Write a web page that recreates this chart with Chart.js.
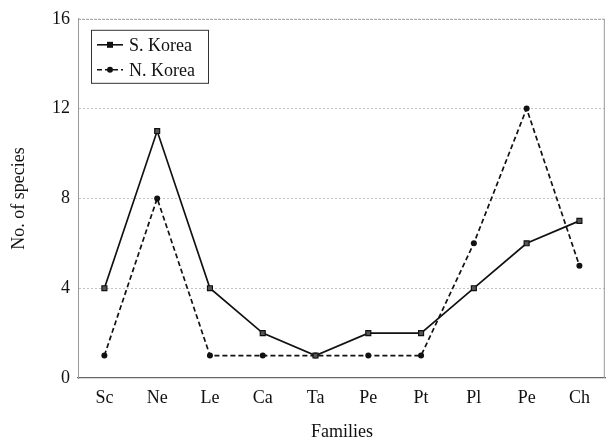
<!DOCTYPE html>
<html>
<head>
<meta charset="utf-8">
<script src="https://cdn.jsdelivr.net/npm/chart.js@4/dist/chart.umd.min.js"></script>
<style>
  html, body { margin: 0; padding: 0; background: #fff; }
  #wrap { width: 611px; height: 443px; position: relative; }
</style>
</head>
<body>
<div id="wrap"><canvas id="speciesChart" width="611" height="443"></canvas></div>
<script>
// Families along the x axis
const families = ['Sc', 'Ne', 'Le', 'Ca', 'Ta', 'Pe', 'Pt', 'Pl', 'Pe', 'Ch'];
// number of species per family
const southKorea = [4, 11, 4, 2, 1, 2, 2, 4, 6, 7];
const northKorea = [1, 8, 1, 1, 1, 1, 1, 6, 12, 5];
const yTicks = [0, 4, 8, 12, 16];

const serif = '"Liberation Serif", "DejaVu Serif", serif';

// legend box drawn inside the plot, top-left
const boxLegend = {
    id: 'boxLegend',
    afterDraw(chart) {
        const ctx = chart.ctx;
        const area = chart.chartArea;
        const x = area.left + 13, y = area.top + 11;
        const w = 117, h = 53;
        ctx.save();
        ctx.fillStyle = '#fff';
        ctx.fillRect(x, y, w, h);
        ctx.strokeStyle = '#333';
        ctx.lineWidth = 1;
        ctx.strokeRect(x + 0.5, y + 0.5, w, h);
        chart.data.datasets.forEach((ds, i) => {
            const ly = y + 15 + i * 25;
            ctx.strokeStyle = '#111';
            ctx.lineWidth = 1.6;
            ctx.setLineDash(ds.borderDash || []);
            ctx.beginPath();
            ctx.moveTo(x + 6, ly);
            ctx.lineTo(x + 32, ly);
            ctx.stroke();
            ctx.setLineDash([]);
            ctx.fillStyle = '#111';
            if (ds.pointStyle === 'rect') {
                ctx.fillRect(x + 16, ly - 3, 6, 6);
            } else {
                ctx.beginPath();
                ctx.arc(x + 19, ly, 3, 0, Math.PI * 2);
                ctx.fill();
            }
            ctx.font = '18px ' + serif;
            ctx.textBaseline = 'middle';
            ctx.fillText(ds.label, x + 38, ly + 1);
        });
        ctx.restore();
    }
};

// grey frame on top and right of the plot
const frame = {
    id: 'frame',
    beforeDatasetsDraw(chart) {
        const ctx = chart.ctx;
        const a = chart.chartArea;
        ctx.save();
        ctx.strokeStyle = '#999';
        ctx.lineWidth = 1;
        ctx.setLineDash([3, 1]);
        ctx.beginPath();
        ctx.moveTo(a.left, a.top + 0.5);
        ctx.lineTo(a.right - 1.5, a.top + 0.5);
        ctx.stroke();
        ctx.setLineDash([]);
        ctx.beginPath();
        ctx.moveTo(a.right - 1.5, a.top);
        ctx.lineTo(a.right - 1.5, a.bottom);
        ctx.stroke();
        ctx.restore();
    }
};

const ctx = document.getElementById('speciesChart').getContext('2d');
const speciesChart = new Chart(ctx, {
    type: 'line',
    data: {
        labels: families,
        datasets: [{
            label: 'S. Korea',
            data: southKorea,
            borderColor: '#111',
            backgroundColor: '#222',
            borderWidth: 1.7,
            pointStyle: 'rect',
            pointRadius: 3.5,
            pointBorderWidth: 1.2,
            pointBorderColor: '#111',
            pointBackgroundColor: '#555',
            tension: 0
        }, {
            label: 'N. Korea',
            data: northKorea,
            borderColor: '#111',
            backgroundColor: '#111',
            borderWidth: 1.7,
            borderDash: [5, 3],
            pointStyle: 'circle',
            pointRadius: 3,
            pointBorderWidth: 0,
            pointBackgroundColor: '#111',
            tension: 0
        }]
    },
    options: {
        responsive: false,
        animation: false,
        devicePixelRatio: 1,
        layout: { padding: { left: 0, right: 1, top: 15, bottom: 0 } },
        plugins: {
            legend: { display: false },
            tooltip: { enabled: false }
        },
        scales: {
            x: {
                offset: true,
                grid: { display: false, drawTicks: false },
                border: { display: true, color: '#666', width: 1.2 },
                ticks: {
                    color: '#111',
                    font: { family: serif, size: 18 },
                    padding: 9,
                    maxRotation: 0,
                    autoSkip: false
                },
                title: {
                    display: true,
                    text: 'Families',
                    color: '#111',
                    font: { family: serif, size: 18 },
                    padding: { top: 12, bottom: 0 }
                },
                afterFit(scale) { scale.height = 65; }
            },
            y: {
                min: 0,
                max: 16,
                afterBuildTicks(scale) {
                    scale.ticks = yTicks.map(v => ({ value: v }));
                },
                grid: {
                    color: (c) => (c.tick && c.tick.value > 0 && c.tick.value < 16) ? '#c4c4c4' : 'rgba(0,0,0,0)',
                    drawTicks: false,
                    lineWidth: 1
                },
                // in v4 border.dash sets the grid line dashes
                border: { display: true, color: '#999', width: 1, dash: [2, 2] },
                ticks: {
                    color: '#111',
                    font: { family: serif, size: 18 },
                    padding: 8,
                    autoSkip: false
                },
                title: {
                    display: true,
                    text: 'No. of species',
                    color: '#111',
                    font: { family: serif, size: 18 },
                    padding: { top: 8, bottom: 2 }
                },
                afterFit(scale) { scale.width = 78; }
            }
        }
    },
    plugins: [frame, boxLegend]
});
</script>
</body>
</html>
